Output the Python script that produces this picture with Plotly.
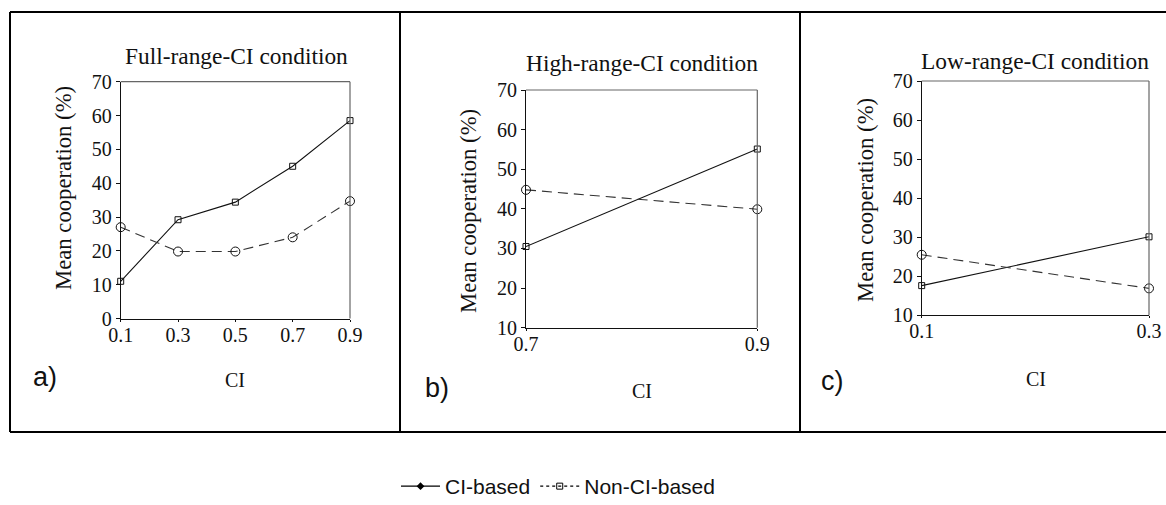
import plotly.graph_objects as go

# ---------------- data ----------------
ci_full = [0.1, 0.3, 0.5, 0.7, 0.9]
ci_based_full = [11, 29.2, 34.4, 45, 58.5]
non_ci_full = [27, 19.8, 19.8, 24, 34.7]

ci_high = [0.7, 0.9]
ci_based_high = [30.5, 55.1]
non_ci_high = [44.8, 39.9]

ci_low = [0.1, 0.3]
ci_based_low = [17.6, 30.1]
non_ci_low = [25.5, 16.9]

panel_titles = ["Full-range-CI condition", "High-range-CI condition", "Low-range-CI condition"]
panel_letters = ["a)", "b)", "c)"]
y_title = "Mean cooperation (%)"
x_title = "CI"
legend_names = ["CI-based", "Non-CI-based"]

W, H = 1166, 505
SERIF = "Liberation Serif"
SANS = "Liberation Sans"


def px(x):
    return x / W


def py(y):
    return 1 - y / H


fig = go.Figure()

panels = [
    dict(x=ci_full, a=ci_based_full, b=non_ci_full, xd=(120.7, 350), yd=(81.7, 318.5),
         yr=[0, 70], yt=list(range(0, 71, 10)), xt=ci_full),
    dict(x=ci_high, a=ci_based_high, b=non_ci_high, xd=(526, 757.3), yd=(90, 327.7),
         yr=[10, 70], yt=list(range(10, 71, 10)), xt=ci_high),
    dict(x=ci_low, a=ci_based_low, b=non_ci_low, xd=(921.7, 1149), yd=(81, 315.3),
         yr=[10, 70], yt=list(range(10, 71, 10)), xt=ci_low),
]

for i, p in enumerate(panels):
    n = "" if i == 0 else str(i + 1)
    xa, ya = "x" + n, "y" + n
    fig.add_trace(go.Scatter(
        x=p["x"], y=p["a"], mode="lines+markers", name=legend_names[0], showlegend=False,
        line=dict(color="#111", width=1.1),
        marker=dict(symbol="square-open", size=6, color="#111", line=dict(width=1)),
        xaxis=xa, yaxis=ya, cliponaxis=False))
    fig.add_trace(go.Scatter(
        x=p["x"], y=p["b"], mode="lines+markers", name=legend_names[1], showlegend=False,
        line=dict(color="#333", width=1.1, dash="10px,6px"),
        marker=dict(symbol="circle-open", size=9, color="#111", line=dict(width=1)),
        xaxis=xa, yaxis=ya, cliponaxis=False))
    xr = [min(p["x"]), max(p["x"])]
    axis_common = dict(showgrid=False, zeroline=False, showline=True, linecolor="#111",
                       linewidth=1, ticks="outside", tickcolor="#111",
                       tickfont=dict(family=SERIF, size=20, color="#111"))
    fig.update_layout(**{
        "xaxis" + n: dict(domain=[px(p["xd"][0]), px(p["xd"][1])], range=xr, ticklen=2,
                          ticklabelstandoff=-4,
                          tickvals=p["xt"], tickformat=".1f", anchor=ya, **axis_common),
        "yaxis" + n: dict(domain=[py(p["yd"][1]), py(p["yd"][0])], range=p["yr"], ticklen=4,
                          tickvals=p["yt"], anchor=xa, **axis_common),
    })
    # top/right frame of plot area
    fig.add_shape(type="line", xref=xa + " domain", yref=ya + " domain", x0=0, x1=1, y0=1, y1=1,
                  line=dict(color="#666", width=1.2))
    fig.add_shape(type="line", xref=xa + " domain", yref=ya + " domain", x0=1, x1=1, y0=0, y1=1,
                  line=dict(color="#666", width=1.2))

# legend-only entries (as drawn in the reference legend)
fig.add_trace(go.Scatter(x=[None], y=[None], mode="lines+markers", name=legend_names[0],
                         line=dict(color="black", width=1.2),
                         marker=dict(symbol="diamond", size=6, color="black")))
fig.add_trace(go.Scatter(x=[None], y=[None], mode="lines+markers", name=legend_names[1],
                         line=dict(color="black", width=1.2, dash="dot"),
                         marker=dict(symbol="square-open", size=6, color="black", line=dict(width=1))))

annotations = []
title_pos = [(236, 56), (642, 63), (1035, 61)]
xt_pos = [(235, 380), (642, 391), (1036, 379)]
yt_pos = [(63, 188), (469, 211), (865, 200)]
letter_pos = [(45, 377), (437, 388), (832, 381)]
for i in range(3):
    annotations.append(dict(text=panel_titles[i], x=px(title_pos[i][0]), y=py(title_pos[i][1]),
                            xref="paper", yref="paper", showarrow=False, xanchor="center", yanchor="middle",
                            font=dict(family=SERIF, size=23.4, color="#111")))
    annotations.append(dict(text=x_title, x=px(xt_pos[i][0]), y=py(xt_pos[i][1]),
                            xref="paper", yref="paper", showarrow=False, xanchor="center", yanchor="middle",
                            font=dict(family=SERIF, size=20, color="#111")))
    annotations.append(dict(text=y_title, x=px(yt_pos[i][0]), y=py(yt_pos[i][1]), textangle=-90,
                            xref="paper", yref="paper", showarrow=False, xanchor="center", yanchor="middle",
                            font=dict(family=SERIF, size=22.7, color="#111")))
    annotations.append(dict(text=panel_letters[i], x=px(letter_pos[i][0]), y=py(letter_pos[i][1]),
                            xref="paper", yref="paper", showarrow=False, xanchor="center", yanchor="middle",
                            font=dict(family=SANS, size=27, color="#111")))

# outer panel boxes
shapes = [
    dict(type="line", xref="paper", yref="paper", x0=px(10), x1=1, y0=py(12), y1=py(12),
         line=dict(color="black", width=2)),
    dict(type="line", xref="paper", yref="paper", x0=px(10), x1=1, y0=py(432), y1=py(432),
         line=dict(color="black", width=2)),
]
for xv in (10, 400, 800):
    shapes.append(dict(type="line", xref="paper", yref="paper", x0=px(xv), x1=px(xv),
                       y0=py(12), y1=py(432), line=dict(color="black", width=2)))
for s in shapes:
    fig.add_shape(**s)

fig.update_layout(
    width=W, height=H, margin=dict(l=0, r=0, t=0, b=0, autoexpand=False),
    paper_bgcolor="white", plot_bgcolor="white",
    annotations=annotations,
    showlegend=True,
    legend=dict(orientation="h", x=px(396), y=py(466), xanchor="left", yanchor="top",
                font=dict(family=SANS, size=21, color="#111"), itemwidth=39,
                bgcolor="rgba(0,0,0,0)"),
)

fig.write_html(
    "out.html",
    config={"displayModeBar": False},
    post_script="document.body.style.margin='0';document.body.style.overflow='hidden';",
)
